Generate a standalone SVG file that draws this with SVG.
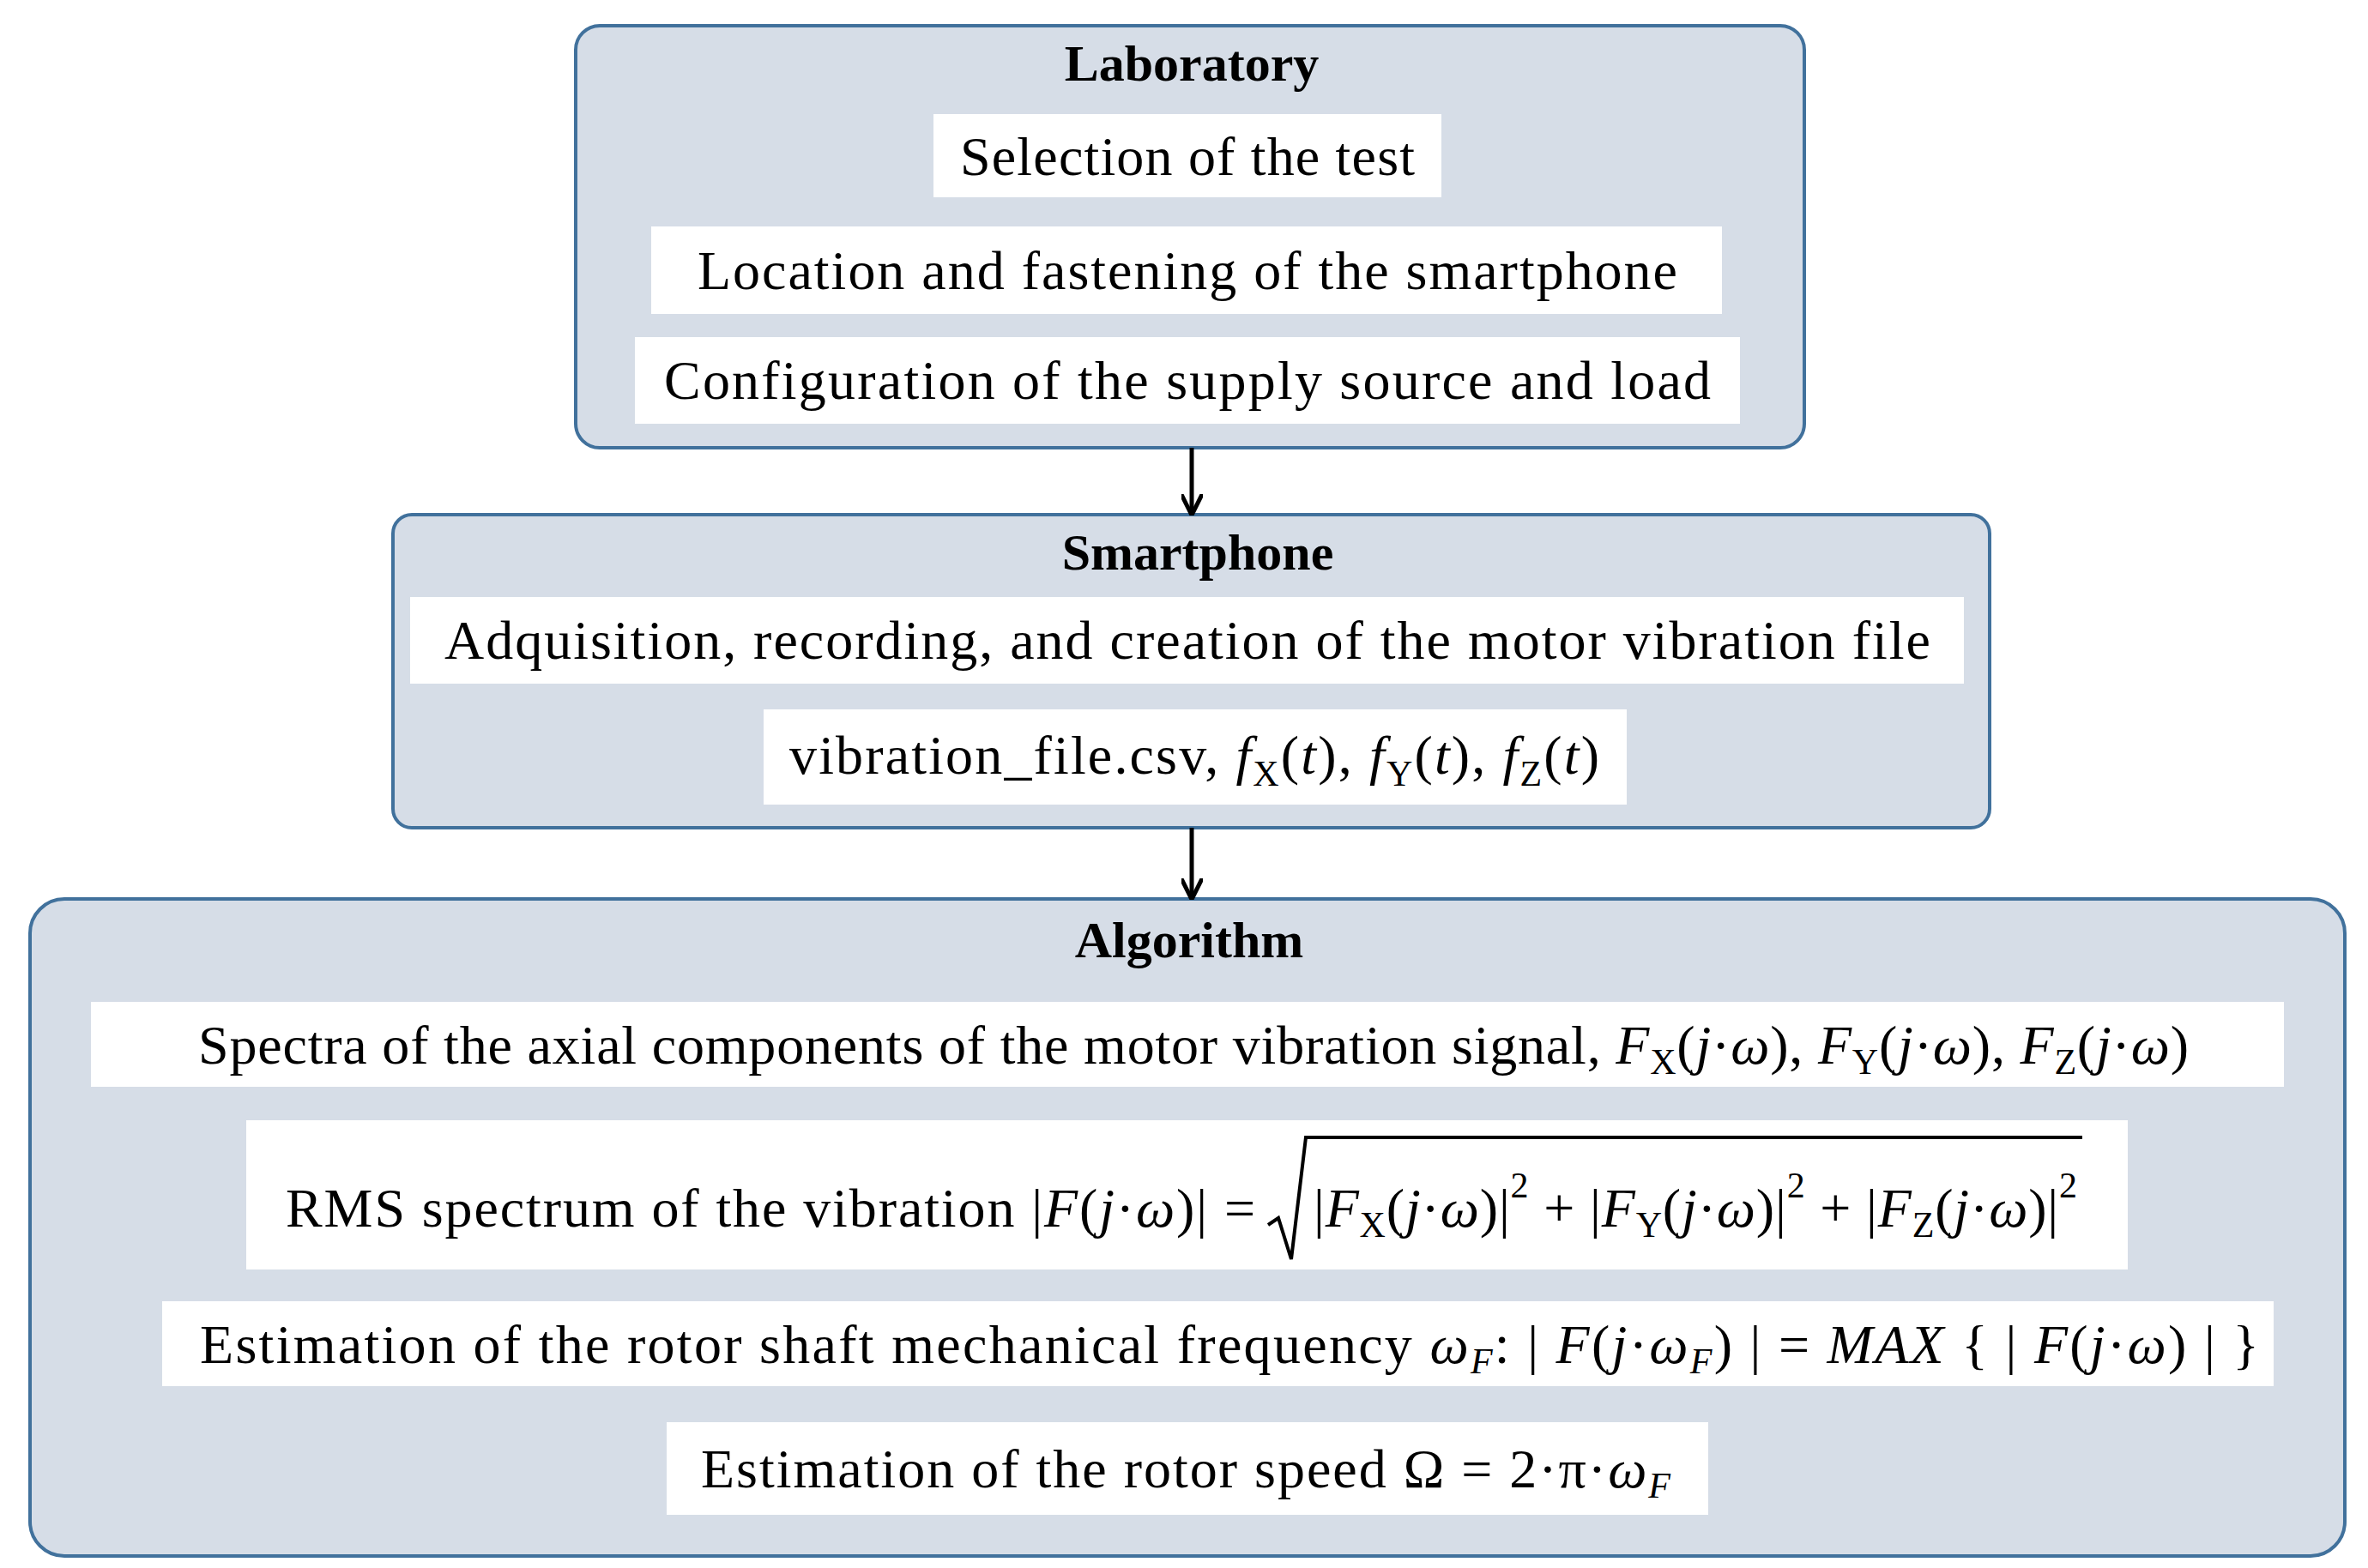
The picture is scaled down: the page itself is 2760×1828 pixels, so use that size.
<svg xmlns="http://www.w3.org/2000/svg" width="2760" height="1828" viewBox="0 0 2760 1828">
<style>
.grp{fill:#d6dde7;stroke:#41719c;stroke-width:4}
.w{fill:#ffffff}
text{font-family:"Liberation Serif","DejaVu Serif",serif;font-size:64px;fill:#000}
.t{font-weight:bold;text-anchor:middle;font-size:60px}
.c{text-anchor:middle}
.i{font-style:italic}
.s{font-size:42px}
.conn{stroke:#000;stroke-width:5;fill:none}
</style>
<defs>
<marker id="ah" viewBox="0 0 10 10" refX="9" refY="5" markerWidth="5" markerHeight="5" orient="auto"><path d="M0,0 L10,5 L0,10" fill="none" stroke="#000" stroke-width="2"/></marker>
</defs>
<g id="laboratory">
<rect class="grp" x="671" y="30" width="1432" height="492" rx="28"/>
<text class="t" x="1389" y="94">Laboratory</text>
<rect class="w" x="1088" y="133" width="592" height="97"/>
<text class="c" x="1384" y="204" textLength="530">Selection of the test</text>
<rect class="w" x="759" y="264" width="1248" height="102"/>
<text class="c" x="1384" y="337" textLength="1142">Location and fastening of the smartphone</text>
<rect class="w" x="740" y="393" width="1288" height="101"/>
<text class="c" x="1384" y="465" textLength="1220">Configuration of the supply source and load</text>
</g>
<g id="smartphone">
<rect class="grp" x="458" y="600" width="1861" height="365" rx="22"/>
<text class="t" x="1396" y="664">Smartphone</text>
<rect class="w" x="478" y="696" width="1811" height="101"/>
<text class="c" x="1384" y="768" textLength="1732">Adquisition, recording, and creation of the motor vibration file</text>
<rect class="w" x="890" y="827" width="1006" height="111"/>
<text x="920" y="902" textLength="944">vibration_file.csv,  <tspan class="i">f</tspan><tspan class="s" dy="14">X</tspan><tspan dy="-14">(</tspan><tspan class="i">t</tspan>), <tspan class="i">f</tspan><tspan class="s" dy="14">Y</tspan><tspan dy="-14">(</tspan><tspan class="i">t</tspan>), <tspan class="i">f</tspan><tspan class="s" dy="14">Z</tspan><tspan dy="-14">(</tspan><tspan class="i">t</tspan>)</text>
</g>
<g id="algorithm">
<rect class="grp" x="35" y="1048" width="2698" height="766" rx="40"/>
<text class="t" x="1386" y="1116">Algorithm</text>
<rect class="w" x="106" y="1168" width="2556" height="99"/>
<text x="231" y="1240" textLength="2320">Spectra of the axial components of the motor vibration signal, <tspan class="i">F</tspan><tspan class="s" dy="12">X</tspan><tspan dy="-12">(</tspan><tspan class="i">j</tspan>·<tspan class="i">ω</tspan>), <tspan class="i">F</tspan><tspan class="s" dy="12">Y</tspan><tspan dy="-12">(</tspan><tspan class="i">j</tspan>·<tspan class="i">ω</tspan>), <tspan class="i">F</tspan><tspan class="s" dy="12">Z</tspan><tspan dy="-12">(</tspan><tspan class="i">j</tspan>·<tspan class="i">ω</tspan>)</text>
<rect class="w" x="287" y="1306" width="2193" height="174"/>
<text x="333" y="1430" textLength="1130">RMS spectrum of the vibration |<tspan class="i">F</tspan>(<tspan class="i">j</tspan>·<tspan class="i">ω</tspan>)| =</text>
<path d="M1478,1428 L1490,1420 L1505,1468 L1522,1326 L2427,1326" fill="none" stroke="#000" stroke-width="4"/>
<text x="1531" y="1430" textLength="890">|<tspan class="i">F</tspan><tspan class="s" dy="12">X</tspan><tspan dy="-12">(</tspan><tspan class="i">j</tspan>·<tspan class="i">ω</tspan>)|<tspan class="s" dy="-34">2</tspan><tspan dy="34"> + |</tspan><tspan class="i">F</tspan><tspan class="s" dy="12">Y</tspan><tspan dy="-12">(</tspan><tspan class="i">j</tspan>·<tspan class="i">ω</tspan>)|<tspan class="s" dy="-34">2</tspan><tspan dy="34"> + |</tspan><tspan class="i">F</tspan><tspan class="s" dy="12">Z</tspan><tspan dy="-12">(</tspan><tspan class="i">j</tspan>·<tspan class="i">ω</tspan>)|<tspan class="s" dy="-34">2</tspan></text>
<rect class="w" x="189" y="1517" width="2461" height="99"/>
<text x="233" y="1589" textLength="2400">Estimation of the rotor shaft mechanical frequency  <tspan class="i">ω</tspan><tspan class="s i" dy="12">F</tspan><tspan dy="-12">: | </tspan><tspan class="i">F</tspan>(<tspan class="i">j</tspan>·<tspan class="i">ω</tspan><tspan class="s i" dy="12">F</tspan><tspan dy="-12">) |  = </tspan><tspan class="i">MAX</tspan> { | <tspan class="i">F</tspan>(<tspan class="i">j</tspan>·<tspan class="i">ω</tspan>) | }</text>
<rect class="w" x="777" y="1658" width="1214" height="108"/>
<text x="817" y="1734" textLength="1130">Estimation of the rotor speed  Ω = 2·π·<tspan class="i">ω</tspan><tspan class="s i" dy="12">F</tspan></text>
</g>
<g id="connectors">
<path class="conn" d="M1389,522 L1389,598" marker-end="url(#ah)"/>
<path class="conn" d="M1389,965 L1389,1046" marker-end="url(#ah)"/>
</g>
</svg>
